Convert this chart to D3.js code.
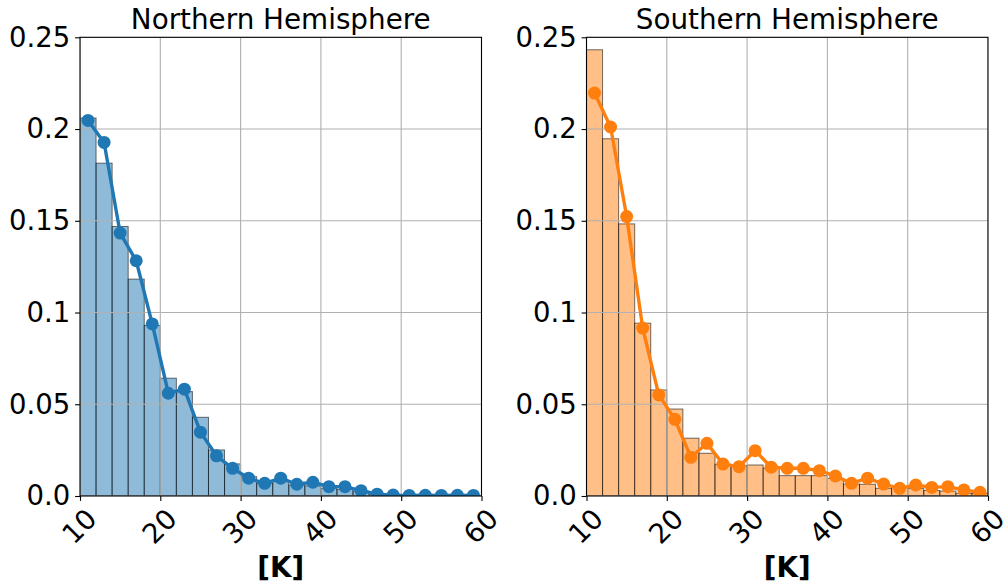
<!DOCTYPE html>
<html>
<head>
<meta charset="utf-8">
<script src="https://cdn.jsdelivr.net/npm/d3@7"></script>
<style>
  html, body { margin: 0; padding: 0; background: #fff; }
  svg { display: block; font-family: "DejaVu Sans", sans-serif; }
</style>
</head>
<body>
<svg id="chart" width="1004" height="584"></svg>
<script>
// ---- data ----
const binEdges = [10,12,14,16,18,20,22,24,26,28,30,32,34,36,38,40,42,44,46,48,50,52,54,56,58,60];
const binCenters = [11,13,15,17,19,21,23,25,27,29,31,33,35,37,39,41,43,45,47,49,51,53,55,57,59];

const northBars = [0.206, 0.1814, 0.1469, 0.1182, 0.093, 0.0642, 0.0569, 0.0429, 0.0251, 0.0175,
                   0.0105, 0.0069, 0.0078, 0.006, 0.0055, 0.0042, 0.0036, 0.0027, 0.0013, 0.0008,
                   0.0005, 0.0005, 0.0004, 0.0003, 0.0003];
const northLine = [0.2047, 0.1927, 0.1433, 0.1282, 0.0938, 0.056, 0.0582, 0.0348, 0.0219, 0.0151,
                   0.0097, 0.0069, 0.0097, 0.0064, 0.0075, 0.0051, 0.0051, 0.0029, 0.001, 0.0005,
                   0.0003, 0.0004, 0.0003, 0.0004, 0.0003];

const southBars = [0.2432, 0.1947, 0.1483, 0.0942, 0.0578, 0.0474, 0.0315, 0.0233, 0.0173, 0.0165,
                   0.0169, 0.0152, 0.0111, 0.0111, 0.0111, 0.0096, 0.0065, 0.0064, 0.0042, 0.0051,
                   0.0042, 0.003, 0.0027, 0.0015, 0.0015];
const southLine = [0.2196, 0.2011, 0.1523, 0.0915, 0.0551, 0.0418, 0.0211, 0.0287, 0.0174, 0.016,
                   0.0247, 0.0157, 0.0151, 0.0151, 0.0138, 0.0109, 0.0069, 0.0097, 0.0065, 0.0042,
                   0.006, 0.0047, 0.0051, 0.0033, 0.002];

const xTicks = [10, 20, 30, 40, 50, 60];
const xTickLabels = ["10", "20", "30", "40", "50", "60"];
const yTicks = [0, 0.05, 0.1, 0.15, 0.2, 0.25];
const yTickLabels = ["0.0", "0.05", "0.1", "0.15", "0.2", "0.25"];

const titles = ["Northern Hemisphere", "Southern Hemisphere"];
const xLabel = "[K]";

// ---- drawing ----
(function () {
const svg = d3.select("#chart");
const FS = 27.5;
const plotTop = 37.3, plotBottom = 496;

const panels = [
  { x0: 80, x1: 481.5, bars: northBars, line: northLine, color: "#1f77b4", title: titles[0] },
  { x0: 586.5, x1: 988, bars: southBars, line: southLine, color: "#ff7f0e", title: titles[1] }
];

const defs = svg.append("defs");

panels.forEach((p, i) => {
  const x = d3.scaleLinear().domain([10, 60]).range([p.x0, p.x1]);
  const y = d3.scaleLinear().domain([0, 0.25]).range([plotBottom, plotTop]);
  const g = svg.append("g");

  const clipId = "clip" + i;
  defs.append("clipPath").attr("id", clipId)
    .append("rect").attr("x", p.x0).attr("y", plotTop).attr("width", p.x1 - p.x0).attr("height", plotBottom - plotTop);

  const plot = g.append("g").attr("clip-path", `url(#${clipId})`);

  // bars
  plot.selectAll("rect.bar").data(p.bars).enter().append("rect")
    .attr("class", "bar")
    .attr("x", (d, k) => x(binEdges[k]))
    .attr("width", (d, k) => x(binEdges[k + 1]) - x(binEdges[k]))
    .attr("y", d => y(d))
    .attr("height", d => y(0) - y(d))
    .attr("fill", p.color).attr("fill-opacity", 0.5)
    .attr("stroke", "#000").attr("stroke-opacity", 0.55).attr("stroke-width", 1);

  // grid
  plot.selectAll("line.gx").data(xTicks).enter().append("line")
    .attr("class", "gx")
    .attr("x1", d => x(d)).attr("x2", d => x(d)).attr("y1", plotTop).attr("y2", plotBottom)
    .attr("stroke", "#b0b0b0").attr("stroke-width", 1.1);
  plot.selectAll("line.gy").data(yTicks).enter().append("line")
    .attr("class", "gy")
    .attr("x1", p.x0).attr("x2", p.x1).attr("y1", d => y(d)).attr("y2", d => y(d))
    .attr("stroke", "#b0b0b0").attr("stroke-width", 1.1);

  // line + markers
  const lineGen = d3.line().x((d, k) => x(binCenters[k])).y(d => y(d));
  plot.append("path").datum(p.line).attr("d", lineGen)
    .attr("fill", "none").attr("stroke", p.color).attr("stroke-width", 3.4).attr("stroke-linejoin", "round");
  plot.selectAll("circle").data(p.line).enter().append("circle")
    .attr("cx", (d, k) => x(binCenters[k])).attr("cy", d => y(d)).attr("r", 6.5)
    .attr("fill", p.color);

  // spines
  g.append("rect").attr("x", p.x0).attr("y", plotTop).attr("width", p.x1 - p.x0).attr("height", plotBottom - plotTop)
    .attr("fill", "none").attr("stroke", "#000").attr("stroke-width", 1.1);

  // y axis ticks
  const yAxis = d3.axisLeft(y).tickValues(yTicks).tickFormat((d, k) => yTickLabels[k])
    .tickSize(4.9).tickPadding(4.9);
  const ya = g.append("g").attr("transform", `translate(${p.x0},0)`).call(yAxis);
  ya.select(".domain").remove();
  ya.selectAll("line").attr("stroke", "#000").attr("stroke-width", 1.1);
  ya.selectAll("text").attr("font-size", FS).attr("fill", "#000").attr("font-family", "DejaVu Sans");

  // x axis ticks
  const xAxis = d3.axisBottom(x).tickValues(xTicks).tickFormat("").tickSize(4.9);
  const xa = g.append("g").attr("transform", `translate(0,${plotBottom})`).call(xAxis);
  xa.select(".domain").remove();
  xa.selectAll("line").attr("stroke", "#000").attr("stroke-width", 1.1);

  // rotated x tick labels
  g.selectAll("text.xt").data(xTicks).enter().append("text")
    .attr("class", "xt")
    .attr("transform", d => `translate(${x(d) - 1},${526}) rotate(-45)`)
    .attr("text-anchor", "middle").attr("dominant-baseline", "central")
    .attr("font-size", FS).attr("fill", "#000")
    .text((d, k) => xTickLabels[k]);

  // title
  g.append("text").attr("x", (p.x0 + p.x1) / 2).attr("y", 29)
    .attr("text-anchor", "middle").attr("font-size", 27.8).attr("fill", "#000")
    .text(p.title);

  // x label
  g.append("text").attr("x", (p.x0 + p.x1) / 2).attr("y", 577)
    .attr("text-anchor", "middle").attr("font-size", 27.7).attr("font-weight", "bold").attr("fill", "#000")
    .text(xLabel);
});
})();
</script>
</body>
</html>
